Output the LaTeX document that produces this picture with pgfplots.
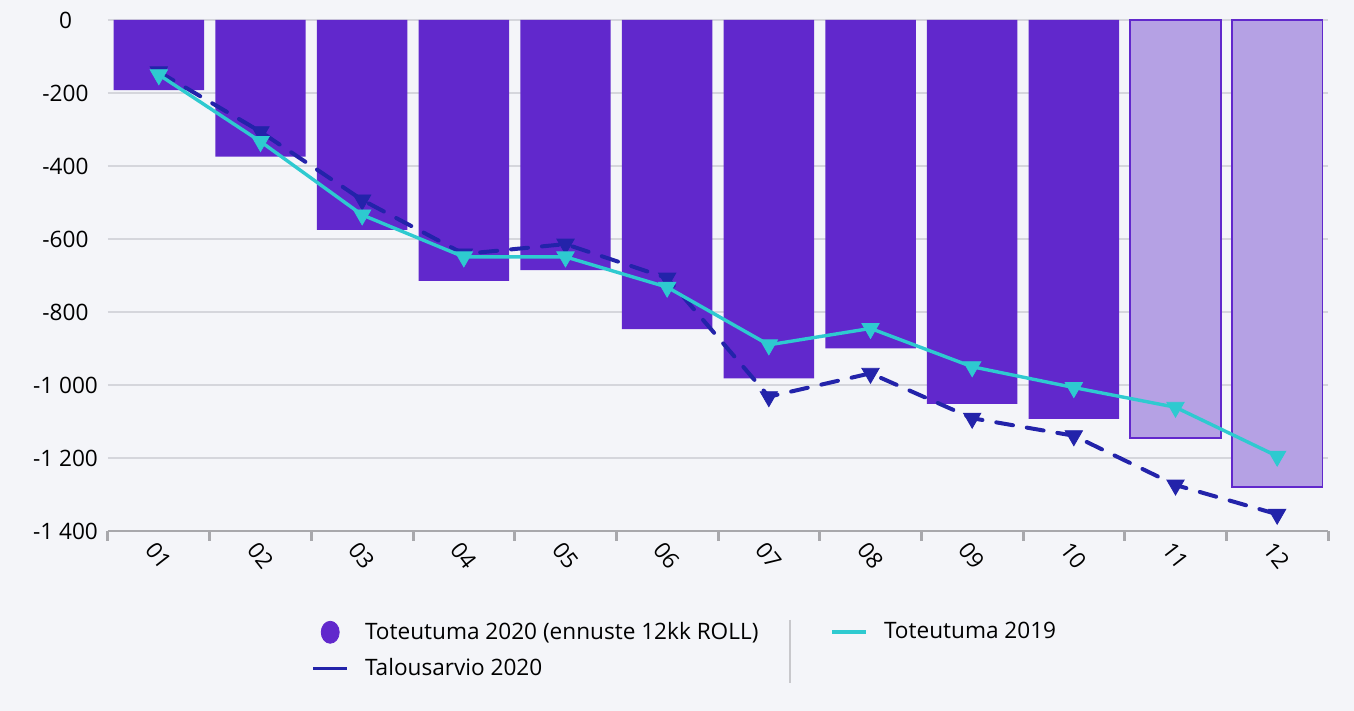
\documentclass[border=0pt]{standalone}
\usepackage{fontspec}
\setmainfont{Open Sans}
\usepackage{pgfplots}
\pgfplotsset{compat=1.18}
\definecolor{bgc}{HTML}{F4F5F9}
\definecolor{barc}{HTML}{6128CC}
\definecolor{barl}{HTML}{B5A1E4}
\definecolor{cyanc}{HTML}{2ECAD0}
\definecolor{navyc}{HTML}{2323AA}
\definecolor{gridc}{HTML}{D5D6DC}
\definecolor{axc}{HTML}{A8A8AC}
\definecolor{sepc}{HTML}{C8C8CC}
\begin{document}
\begin{tikzpicture}[font=\fontsize{11.3}{13.5}\selectfont]
\fill[bgc] (-54pt,-90pt) rectangle (623pt,265.5pt);
\begin{axis}[
  at={(0,0)}, anchor=south west,
  scale only axis, width=610pt, height=255.5pt,
  xmin=0.5, xmax=12.5, ymin=-1400, ymax=0,
  axis lines*=left,
  y axis line style={draw=none},
  x axis line style={axc, line width=1pt},
  xtick={1,...,12},
  xticklabels={01,02,03,04,05,06,07,08,09,10,11,12},
  minor xtick={0.5,1.5,2.5,3.5,4.5,5.5,6.5,7.5,8.5,9.5,10.5,11.5,12.5},
  major x tick style={draw=none},
  minor x tick style={axc, line width=1.5pt},
  minor tick length=5pt, tick align=outside,
  xticklabel style={yshift=-8pt, anchor=center, rotate=-52},
  ytick={-1400,-1200,...,0},
  ytick style={draw=none},
  yticklabel style={anchor=center, xshift=-17pt},
  /pgf/number format/.cd, 1000 sep={\ }, assume math mode=true, /pgfplots/.cd,
  ymajorgrids, grid style={gridc, line width=0.6pt},
  legend columns=2,
  legend cell align=left,
  legend style={at={(0.1615,-0.162)}, anchor=north west, draw=none, fill=none,
    font=\fontsize{11.3}{13.5}\selectfont,
    /tikz/every odd column/.append style={column sep=6pt},
    /tikz/every even column/.append style={column sep=34pt},
    row sep=4pt},
]
\addlegendimage{legend image code/.code={\fill[barc] (8.5pt,0pt) ellipse (4.5pt and 5.5pt);}}
\addlegendentry{Toteutuma 2020 (ennuste 12kk ROLL)}
\addlegendimage{legend image code/.code={\draw[cyanc, line width=1.8pt] (0pt,0pt) -- (17pt,0pt);}}
\addlegendentry{Toteutuma 2019}
\addlegendimage{legend image code/.code={\draw[navyc, line width=1.8pt] (0pt,0pt) -- (17pt,0pt);}}
\addlegendentry{Talousarvio 2020}

\addplot[ybar, bar width=0.89, bar shift=0pt, fill=barc, draw=none, forget plot]
  coordinates {(1,-192) (2,-374) (3,-575) (4,-715) (5,-685) (6,-847) (7,-982) (8,-900) (9,-1052) (10,-1093)};
\addplot[ybar, bar width=0.89, bar shift=0pt, fill=barl, draw=barc, line width=0.8pt, forget plot]
  coordinates {(11,-1146) (12,-1279)};

\addplot[navyc, line width=2pt, line cap=round, dash pattern=on 8.5pt off 7pt, mark=triangle*, mark size=5pt,
  mark options={solid, rotate=180, fill=navyc, line width=0.4pt}, forget plot]
  coordinates {(1,-142) (2,-306) (3,-493) (4,-641) (5,-614) (6,-707) (7,-1032) (8,-968) (9,-1091) (10,-1139) (11,-1274) (12,-1354)};

\addplot[cyanc, line width=1.7pt, mark=triangle*, mark size=5pt,
  mark options={solid, rotate=180, fill=cyanc, line width=0.4pt}, forget plot]
  coordinates {(1,-150) (2,-333) (3,-534) (4,-649) (5,-649) (6,-732) (7,-890) (8,-845) (9,-950) (10,-1007) (11,-1061) (12,-1195)};
\end{axis}
\draw[sepc, line width=1pt] (341pt,-44.5pt) -- (341pt,-76pt);
\path[use as bounding box] (-54pt,-90pt) rectangle (623pt,265.5pt);
\end{tikzpicture}
\end{document}
